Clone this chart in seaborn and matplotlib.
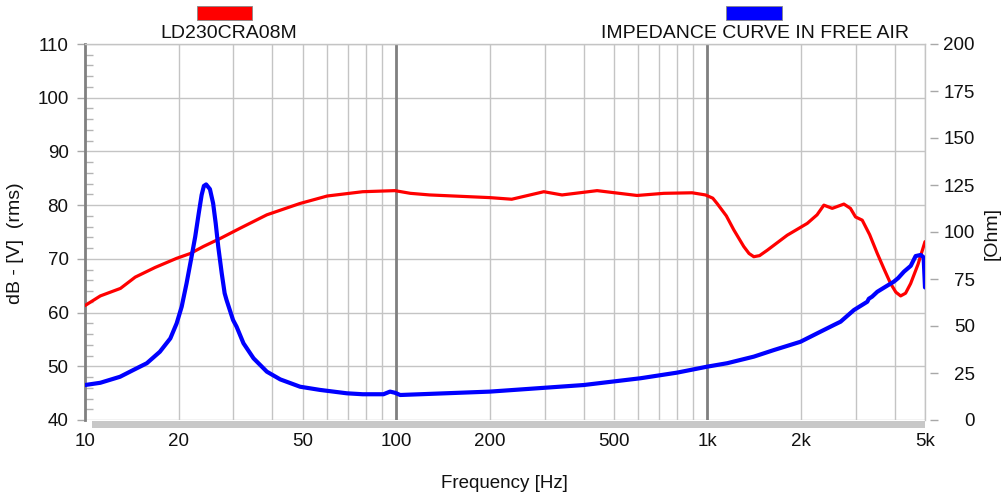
import matplotlib
matplotlib.use("Agg")
import matplotlib.pyplot as plt
from matplotlib.patches import Rectangle
from matplotlib.ticker import FixedLocator, FixedFormatter, MultipleLocator, NullFormatter
import seaborn as sns
import pandas as pd

# ---------------- data ----------------
spl_freq = [10, 11.2, 13, 14.5, 16.8, 19.7, 21.8, 24, 27.2, 31.5, 38.4, 49, 60, 78,
            99, 111, 128, 200, 235, 298, 341, 442, 594, 724, 893, 985, 1040, 1074,
            1150, 1215, 1308, 1360, 1409, 1470, 1556, 1804, 2092, 2250, 2366, 2517,
            2744, 2880, 2991, 3143, 3320, 3513, 3700, 3877, 4030, 4175, 4330, 4496,
            4750, 5000]
spl_db = [61.3, 63.1, 64.5, 66.6, 68.4, 70.1, 71.0, 72.3, 73.8, 75.7, 78.2, 80.3, 81.7, 82.5,
          82.7, 82.2, 81.9, 81.4, 81.1, 82.5, 81.9, 82.7, 81.8, 82.2, 82.3, 81.9, 81.3, 80.3,
          78.0, 75.4, 72.3, 71.0, 70.4, 70.6, 71.6, 74.4, 76.6, 78.2, 80.0, 79.4,
          80.2, 79.4, 77.8, 77.2, 74.5, 71.0, 68.0, 65.4, 63.8, 63.1, 63.6, 65.4,
          69.0, 73.2]

imp_freq = [10, 11.2, 12.96, 14.3, 15.8, 17.4, 18.8, 19.7, 20.45, 21.2, 22.0, 22.6, 23.2,
            23.7, 24.1, 24.5, 25.2, 25.8, 26.3, 26.8, 27.5, 28.1, 28.5, 29.9, 30.7, 32.3,
            34.8, 38.4, 42.4, 49.1, 56.9, 69.4, 78, 91, 95.5, 99, 103, 200, 400, 609,
            799, 1000, 1157, 1409, 1634, 1989, 2252, 2545, 2678, 2956, 3262, 3300, 3380,
            3513, 3700, 3972, 4100, 4279, 4500, 4665, 4847, 4950, 5000]
imp_ohm = [18.6, 19.8, 23.0, 26.6, 30.2, 36.3, 43.4, 51.4, 60.3, 72.7, 86.9, 97.5, 110.0,
           119.7, 124.5, 125.3, 122.8, 115.3, 104.6, 92.2, 78.0, 67.4, 63.8, 53.2, 49.6, 40.8,
           32.8, 25.7, 21.6, 17.7, 16.0, 14.2, 13.7, 13.7, 15.1, 14.5, 13.3, 15.1, 18.6, 22.2,
           25.2, 28.4, 30.2, 33.7, 37.2, 41.6, 46.1, 50.5, 52.3, 58.5, 62.9, 64.5, 65.6,
           68.2, 70.5, 73.6, 75.5, 78.9, 82.0, 87.2, 87.8, 86.5, 70.5]

x_major = [10, 20, 50, 100, 200, 500, 1000, 2000, 5000]
x_major_labels = ["10", "20", "50", "100", "200", "500", "1k", "2k", "5k"]
x_minor = [30, 40, 60, 70, 80, 90, 300, 400, 600, 700, 800, 900, 3000, 4000]
decade_lines = [100, 1000]
left_ticks = [40, 50, 60, 70, 80, 90, 100, 110]
right_ticks = [0, 25, 50, 75, 100, 125, 150, 175, 200]

spl_name = "LD230CRA08M"
imp_name = "IMPEDANCE CURVE IN FREE AIR"

spl_df = pd.DataFrame({"freq": spl_freq, "db": spl_db})
imp_df = pd.DataFrame({"freq": imp_freq, "ohm": imp_ohm})

# ---------------- style ----------------
sns.set_theme(style="white")
plt.rcParams["font.family"] = ["Liberation Sans", "DejaVu Sans"]

W, H = 1002, 496
fig = plt.figure(figsize=(W / 100, H / 100), dpi=100)
L, R, T, B = 85, 925, 44, 420
ax = fig.add_axes([L / W, 1 - B / H, (R - L) / W, (B - T) / H])

grid_c = "#c4c4c4"
dark_c = "#808080"
txt_c = "#111111"

sns.lineplot(data=spl_df, x="freq", y="db", ax=ax, color="#ff0000", lw=2.3,
             sort=False, zorder=3)
ax.set_xscale("log")
ax.set_xlim(10, 5000)
ax.set_ylim(40, 110)

ax.yaxis.set_major_locator(FixedLocator(left_ticks))
ax.yaxis.set_minor_locator(MultipleLocator(2))
ax.grid(True, which="major", axis="y", color=grid_c, lw=1.0, zorder=0)
ax.set_axisbelow(True)
for f in decade_lines:
    ax.axvline(f, color=dark_c, lw=2.0, zorder=1)

ax.tick_params(axis="y", which="major", direction="out", length=5.8, width=1,
               color="#a8a8a8", pad=6.0, labelsize=13.5, labelcolor=txt_c)
ax.tick_params(axis="y", which="minor", direction="in", length=5.8, width=1,
               color="#b4b4b4")

for s in ["top", "right"]:
    ax.spines[s].set_color(grid_c)
    ax.spines[s].set_linewidth(1.0)
ax.spines["left"].set_color(dark_c)
ax.spines["left"].set_linewidth(2.0)
ax.spines["bottom"].set_visible(False)

# gray band under the plot
ax.add_patch(Rectangle(((92 - L) / (R - L), -(428 - B) / (B - T)),
                       (R - 92) / (R - L), (428 - 421) / (B - T),
                       transform=ax.transAxes, facecolor="#c8c8c8",
                       edgecolor="none", clip_on=False, zorder=2))

ax.set_xlabel("Frequency [Hz]", fontsize=13.5, color=txt_c)
ax.xaxis.set_label_coords((504 - L) / (R - L), -(483 - B) / (B - T))
ax.xaxis.label.set_va("center")
ax.set_ylabel("dB - [V]  (rms)", fontsize=14, color=txt_c)
ax.yaxis.set_label_coords((16 - L) / (R - L), (B - 243) / (B - T))
ax.yaxis.label.set_va("center")

# right axis: impedance
ax2 = ax.twinx()
sns.lineplot(data=imp_df, x="freq", y="ohm", ax=ax2, color="#0000ff", lw=3.0,
             sort=False, zorder=4)
ax2.set_ylim(0, 200)
ax2.yaxis.set_major_locator(FixedLocator(right_ticks))
for s in ax2.spines.values():
    s.set_visible(False)
ax2.spines["right"].set_position(("outward", 3.6))
ax2.tick_params(axis="y", which="major", direction="out", length=5.8, width=1,
                color="#a8a8a8", pad=26.5, labelsize=13.5, labelcolor=txt_c)
for lab in ax2.get_yticklabels():
    lab.set_ha("right")
ax2.grid(False)
ax2.set_ylabel("[Ohm]", fontsize=14, color=txt_c, rotation=90)
ax2.yaxis.set_label_coords((992 - L) / (R - L), (B - 234) / (B - T))
ax2.yaxis.label.set_va("center")

# x axis ticks (after twin so nothing resets them)
ax.set_xlim(10, 5000)
ax.xaxis.set_major_locator(FixedLocator(x_major))
ax.xaxis.set_major_formatter(FixedFormatter(x_major_labels))
ax.xaxis.set_minor_locator(FixedLocator(x_minor))
ax.xaxis.set_minor_formatter(NullFormatter())
ax.grid(True, which="both", axis="x", color=grid_c, lw=1.0, zorder=0)
ax.tick_params(axis="x", which="both", length=0, pad=9, labelsize=13.5, colors=txt_c)

# legend-like header
fig.patches.append(Rectangle((197 / W, 1 - 20 / H), 55 / W, 14 / H,
                             transform=fig.transFigure, facecolor="#ff0000",
                             edgecolor="#888888", lw=0.6))
fig.patches.append(Rectangle((726 / W, 1 - 20 / H), 56 / W, 14 / H,
                             transform=fig.transFigure, facecolor="#0000ff",
                             edgecolor="#888888", lw=0.6))
fig.text(229 / W, 1 - 33 / H, spl_name, ha="center", va="center",
         fontsize=14, color=txt_c)
fig.text(755 / W, 1 - 33 / H, imp_name, ha="center", va="center",
         fontsize=14, color=txt_c)

fig.savefig("out.png", dpi=100)
